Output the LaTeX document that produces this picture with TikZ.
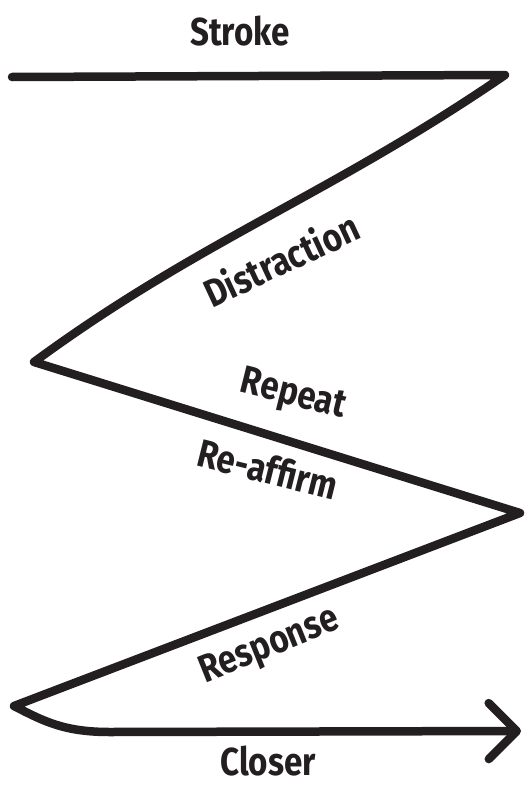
\documentclass[tikz,border=0pt]{standalone}
\usepackage{fontspec}
\setmainfont{Fira Sans}[FakeStretch=0.85]
\usetikzlibrary{arrows.meta}
\definecolor{ink}{RGB}{35,31,32}
\tikzset{
  zig/.style={line width=8.5pt,line join=round,line cap=round,draw=ink},
  lab/.style={font=\fontsize{39}{44}\selectfont\bfseries,text=ink,inner sep=0pt}
}

\begin{document}
\begin{tikzpicture}[x=1pt,y=-1pt]
  \useasboundingbox (0,0) rectangle (528,787);
  % corners of the zigzag
  \coordinate (s0) at (12,77);
  \coordinate (s1) at (505,75);
  \coordinate (d1) at (34,362);
  \coordinate (r1) at (520,513);
  \coordinate (p1) at (14,706);
  \coordinate (b1) at (110,732);
  \coordinate (c1) at (521,731);
  \draw[zig,-{Straight Barb[length=28pt,width=56pt,round]}]
    (s0) -- (s1) .. controls (330,195) and (200,240) .. (d1)
    -- (r1) -- (p1) .. controls (45,722) and (65,732) .. (b1) -- (c1);
  % labels
  \node[lab] (stroke) at (240,31) {Stroke};
  \node[lab,rotate=25] (distr) at (281,259) {Distraction};
  \node[lab,rotate=-14] (rep) at (293,396) {Repeat};
  \node[lab,rotate=-14] (reaff) at (268,469) {Re-affirm};
  \node[lab,rotate=22] (resp) at (270,647) {Response};
  \node[lab] (closer) at (268,761) {Closer};
\end{tikzpicture}
\end{document}
